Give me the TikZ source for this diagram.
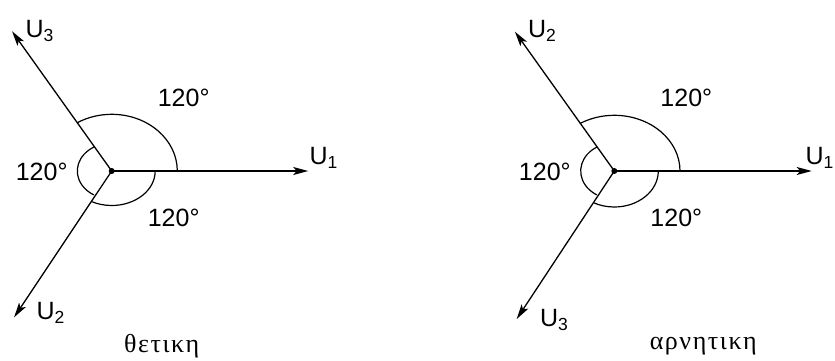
\documentclass[tikz,border=0pt]{standalone}
\usepackage{fontspec}
\setmainfont{Liberation Sans}
\newfontfamily\greekfont[LetterSpace=6]{Liberation Serif}
\usetikzlibrary{arrows.meta}
\begin{document}
\begin{tikzpicture}[x=1pt,y=1pt,
  vec/.style={line width=1.3pt,-{Stealth[length=15pt,width=8pt,inset=3.5pt]}},
  angarc/.style={line width=1.2pt},
  lbl/.style={font=\fontsize{25}{28}\selectfont, inner sep=0pt},
  greekcap/.style={font=\greekfont\fontsize{26}{28}\selectfont, inner sep=0pt}]
\useasboundingbox (0,0) rectangle (835,360);
% ---------- left diagram (positive sequence)
\begin{scope}[shift={(111.7,189)}]
  \coordinate (LO) at (0,0);
  \coordinate (LA1) at (196.5,0);
  \coordinate (LA3) at (125.5:171.6);
  \coordinate (LA2) at (236.3:175.9);
  \draw[vec] (LO) -- (LA1);
  \draw[vec] (LO) -- (LA3);
  \draw[vec] (LO) -- (LA2);
  \draw[angarc] (LO) ++(65.6,0) arc[start angle=0,end angle=121.6,x radius=65.6,y radius=56.7];
  \draw[angarc] (LO) ++({34.4*cos(120.2)},{28*sin(120.2)}) arc[start angle=120.2,end angle=238.5,x radius=34.4,y radius=28];
  \draw[angarc] (LO) ++(43.5,0) arc[start angle=0,end angle=-118,x radius=43.5,y radius=34.5];
  \fill (LO) circle (3pt);
  \node[lbl] (lu1) at (212,13) {U\textsubscript{1}};
  \node[lbl] (lu3) at (-72,140) {U\textsubscript{3}};
  \node[lbl] (lu2) at (-61,-142) {U\textsubscript{2}};
  \node[lbl] (lt) at (72,73) {120°};
  \node[lbl] (ll) at (-70,-1) {120°};
  \node[lbl] (lb) at (62,-47) {120°};
  \node[greekcap] (lcap) at (50,-175.5) {θετικη};
\end{scope}
% ---------- right diagram (negative sequence)
\begin{scope}[shift={(614.3,189)}]
  \coordinate (RO) at (0,0);
  \coordinate (RA1) at (197.4,0);
  \coordinate (RA2) at (125.5:171.1);
  \coordinate (RA3) at (236.6:177.3);
  \draw[vec] (RO) -- (RA1);
  \draw[vec] (RO) -- (RA2);
  \draw[vec] (RO) -- (RA3);
  \draw[angarc] (RO) ++(65.7,0) arc[start angle=0,end angle=121.6,x radius=65.7,y radius=55.7];
  \draw[angarc] (RO) ++({33.6*cos(120.2)},{28*sin(120.2)}) arc[start angle=120.2,end angle=238.5,x radius=33.6,y radius=28];
  \draw[angarc] (RO) ++(44,0) arc[start angle=0,end angle=-118,x radius=44,y radius=36];
  \fill (RO) circle (3pt);
  \node[lbl] (ru1) at (205.5,13) {U\textsubscript{1}};
  \node[lbl] (ru2) at (-72,140) {U\textsubscript{2}};
  \node[lbl] (ru3) at (-60,-149) {U\textsubscript{3}};
  \node[lbl] (rt) at (72,73) {120°};
  \node[lbl] (rl) at (-69.5,-1) {120°};
  \node[lbl] (rb) at (62,-47) {120°};
  \node[greekcap] (rcap) at (89,-175.5) {αρνητικη};
\end{scope}
\end{tikzpicture}
\end{document}
